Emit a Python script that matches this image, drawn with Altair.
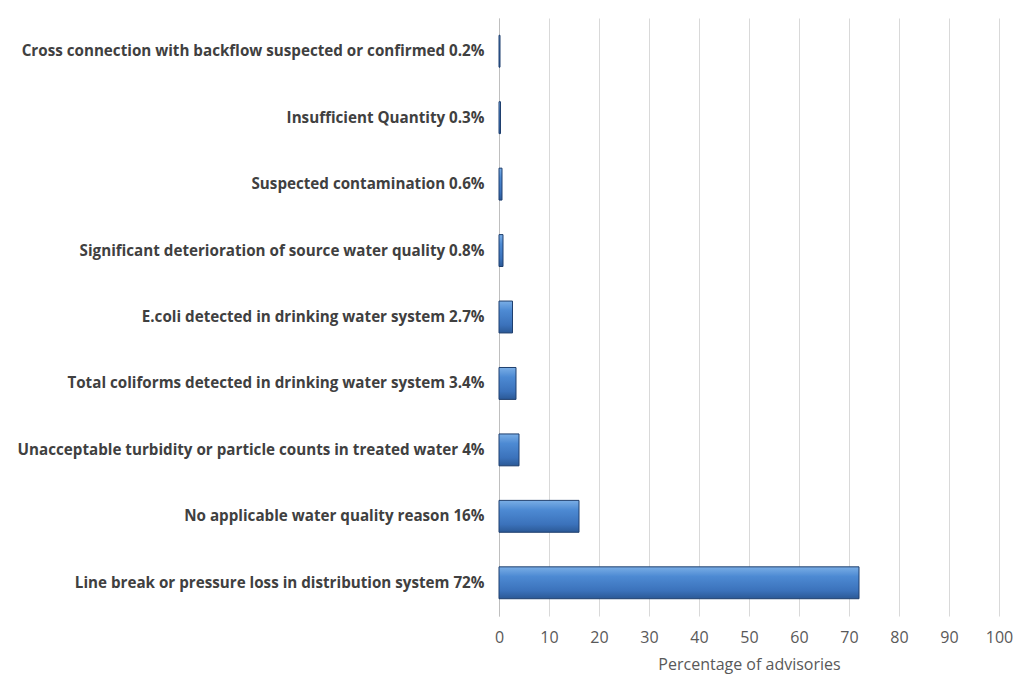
import altair as alt
import pandas as pd

labels = [
    "Cross connection with backflow suspected or confirmed 0.2%",
    "Insufficient Quantity 0.3%",
    "Suspected contamination 0.6%",
    "Significant deterioration of source water quality 0.8%",
    "E.coli detected in drinking water system 2.7%",
    "Total coliforms detected in drinking water system 3.4%",
    "Unacceptable turbidity or particle counts in treated water 4%",
    "No applicable water quality reason 16%",
    "Line break or pressure loss in distribution system 72%",
]
values = [0.2, 0.3, 0.6, 0.8, 2.7, 3.4, 4.0, 16.0, 72.0]

df = pd.DataFrame({"reason": labels, "pct": values})

grad = alt.Gradient(
    gradient="linear",
    stops=[
        alt.GradientStop(color="#7aaee6", offset=0),
        alt.GradientStop(color="#4d8ad3", offset=0.3),
        alt.GradientStop(color="#3b72bb", offset=0.75),
        alt.GradientStop(color="#2b5996", offset=1),
    ],
    x1=0, x2=0, y1=0, y2=1,
)

chart = (
    alt.Chart(df)
    .mark_bar(color=grad, stroke="#1f3f6e", strokeWidth=1)
    .encode(
        x=alt.X(
            "pct:Q",
            title="Percentage of advisories",
            scale=alt.Scale(domain=[0, 100], nice=False),
            axis=alt.Axis(
                values=list(range(0, 101, 10)),
                grid=True,
                gridColor="#d9d9d9",
                domain=False,
                ticks=False,
                labelFlush=False,
                labelFontSize=16,
                labelColor="#595959",
                labelPadding=13,
                titleFontSize=16,
                titleFontWeight="normal",
                titleColor="#595959",
                titlePadding=11,
            ),
        ),
        y=alt.Y(
            "reason:N",
            sort=labels,
            title=None,
            scale=alt.Scale(paddingInner=0.52, paddingOuter=0.26),
            axis=alt.Axis(
                domainColor="#bfbfbf",
                domainWidth=1,
                ticks=False,
                labelFontSize=15.2,
                labelFontWeight="bold",
                labelColor="#404040",
                labelPadding=15,
                labelLimit=600,
            ),
        ),
    )
    .properties(
        width=500,
        height=598,
        autosize=alt.AutoSizeParams(type="none"),
        padding={"left": 491, "top": 10, "right": 21, "bottom": 60},
    )
    .configure(font="Open Sans")
    .configure_view(stroke=None)
)

chart.save("out.html", embed_options={"renderer": "svg", "actions": False})
